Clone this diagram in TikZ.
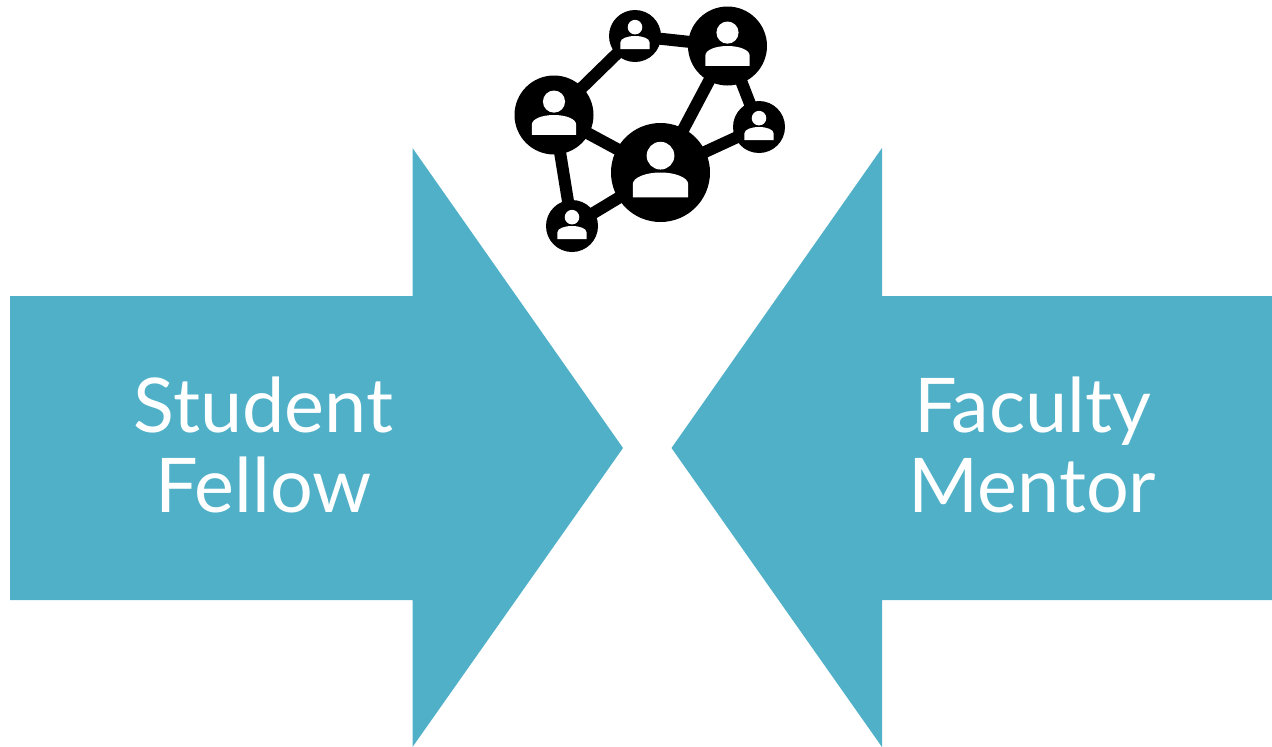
\documentclass[tikz,border=0pt]{standalone}
\usepackage{fontspec}
\setmainfont{Lato}
\usetikzlibrary{backgrounds}
\definecolor{teal}{HTML}{4FB0C8}
\tikzset{
  x=1pt,y=-1pt,
  arrowshape/.style={fill=teal,draw=none},
  label/.style={text=white,align=center,font=\fontsize{75.5}{80}\selectfont,inner sep=0pt},
  hub/.style={circle,fill=black,draw=none,inner sep=0pt,minimum size=#1},
  link/.style={draw=black,line width=12pt,shorten <=-4pt,shorten >=-4pt}
}
% name, x, y, radius
\newcommand{\person}[4]{%
  \node[hub=#4*2pt] (#1) at (#2,#3) {};
  \begin{scope}[shift={(#2,#3)},x=#4*1pt,y=-#4*1pt]
    \fill[white] (0,-.34) circle[radius=.28];
    \fill[white] (-.56,.5) -- (-.56,.24)
      .. controls (-.56,.1) and (-.3,0) .. (0,0)
      .. controls (.3,0) and (.56,.1) .. (.56,.24)
      -- (.56,.5) -- cycle;
  \end{scope}
}
\begin{document}
\begin{tikzpicture}
\useasboundingbox (0,0) rectangle (1272,747);
\fill[arrowshape] (10,296) -- (412.5,296) -- (412.5,148) -- (623,448) -- (412.5,747) -- (412.5,600) -- (10,600) -- cycle;
\fill[arrowshape] (1272,296) -- (882,296) -- (882,148) -- (671.5,448) -- (882,747) -- (882,600) -- (1272,600) -- cycle;
\node[label] (student) at (263.5,444.5) {Student\\Fellow};
\node[label] (faculty) at (1032.5,444.5) {Faculty\\Mentor};
\person{big}{660.5}{172.5}{49.5}
\person{left}{554}{115}{39.5}
\person{topr}{727.5}{46}{39.5}
\person{top}{635}{36}{26}
\person{right}{759}{127}{26}
\person{bot}{572}{226}{26}
\begin{scope}[on background layer]
\draw[link] (left) -- (top);
\draw[link] (top) -- (topr);
\draw[link] (topr) -- (big);
\draw[link] (topr) -- (right);
\draw[link] (right) -- (big);
\draw[link] (left) -- (big);
\draw[link] (left) -- (bot);
\draw[link] (bot) -- (big);
\end{scope}
\end{tikzpicture}
\end{document}
